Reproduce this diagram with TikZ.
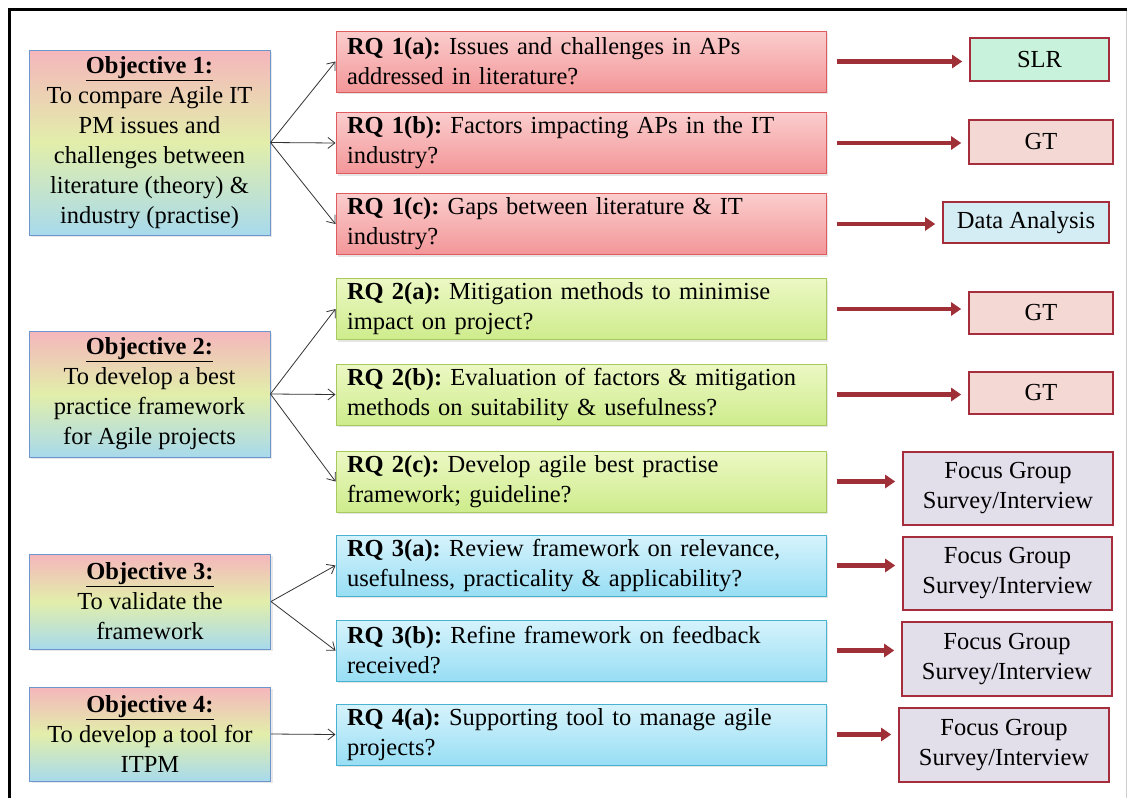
\documentclass[tikz,border=0pt]{standalone}
\usepackage{fontspec}
\setmainfont{Liberation Serif}
\newfontfamily\serifface{Liberation Serif}
\usetikzlibrary{arrows.meta,shadows}

% palette
\definecolor{objborder}{RGB}{110,150,205}
\definecolor{objtop}{RGB}{245,182,188}
\definecolor{objmid}{RGB}{226,238,170}
\definecolor{objbot}{RGB}{168,218,236}
\definecolor{rqAtop}{RGB}{251,205,205}
\definecolor{rqAbot}{RGB}{243,150,152}
\definecolor{rqAline}{RGB}{222,92,96}
\definecolor{rqBtop}{RGB}{236,248,196}
\definecolor{rqBbot}{RGB}{206,236,140}
\definecolor{rqBline}{RGB}{168,200,96}
\definecolor{rqCtop}{RGB}{214,243,252}
\definecolor{rqCbot}{RGB}{152,222,244}
\definecolor{rqCline}{RGB}{72,178,208}
\definecolor{mline}{RGB}{165,45,60}
\definecolor{flow}{RGB}{160,48,56}
\definecolor{fillslr}{RGB}{200,242,220}
\definecolor{fillgt}{RGB}{243,216,212}
\definecolor{fillda}{RGB}{212,236,244}
\definecolor{fillfg}{RGB}{226,222,234}

\tikzset{
  txt/.style={font=\serifface\frenchspacing\fontsize{24.5}{30}\selectfont},
  objbox/.style={txt, draw=objborder, line width=1pt, align=center,
    minimum width=241pt, inner sep=0pt,
    top color=objtop, bottom color=objbot, middle color=objmid,
    drop shadow={opacity=0.18, shadow xshift=2pt, shadow yshift=-2pt}},
  rqbox/.style={txt, line width=1pt, align=left, minimum width=490pt,
    minimum height=61pt, text width=468pt, inner xsep=11pt, inner ysep=0pt,
    drop shadow={opacity=0.2, shadow xshift=2pt, shadow yshift=-2pt}},
  rqred/.style={rqbox, draw=rqAline, top color=rqAtop, bottom color=rqAbot},
  rqgreen/.style={rqbox, draw=rqBline, top color=rqBtop, bottom color=rqBbot},
  rqcyan/.style={rqbox, draw=rqCline, top color=rqCtop, bottom color=rqCbot},
  mbox/.style={txt, draw=mline, line width=1.6pt, align=center, inner sep=0pt},
  link/.style={draw=black!80, line width=0.8pt, -{Straight Barb[length=7pt,width=11pt]}},
  flowarrow/.style={draw=flow, line width=4.5pt,
    -{Triangle[length=10pt,width=13pt]}, shorten <=10pt, shorten >=7pt}
}

\begin{document}
\begin{tikzpicture}[x=1pt,y=-1pt]
\useasboundingbox (0,0) rectangle (1131,798);
\fill[white] (0,0) rectangle (1131,798);

% frame
\draw[black!20, line width=1pt] (1126,9) -- (1126,798);
\draw[black, line width=3pt] (9,798) -- (9,9) -- (1127,9);

% objectives
\node[objbox, minimum height=185pt] (o1) at (149.5,142.5)
  {\textbf{\underline{Objective 1:}}\\To compare Agile IT\\PM issues and\\challenges between\\literature (theory) \&\\industry (practise)};
\node[objbox, minimum height=126pt] (o2) at (149.5,394)
  {\textbf{\underline{Objective 2:}}\\To develop a best\\practice framework\\for Agile projects};
\node[objbox, minimum height=95pt] (o3) at (150,601.5)
  {\textbf{\underline{Objective 3:}}\\To validate the\\framework};
\node[objbox, minimum height=94pt] (o4) at (150,734)
  {\textbf{\underline{Objective 4:}}\\To develop a tool for\\ITPM};

% research questions
\node[rqred] (q1a) at (581,61.5)
  {\textbf{RQ 1(a):} Issues and challenges in APs\\addressed in literature?};
\node[rqred] (q1b) at (581,143)
  {\textbf{RQ 1(b):} Factors impacting APs in the IT\\industry?};
\node[rqred] (q1c) at (581,224)
  {\textbf{RQ 1(c):} Gaps between literature \& IT\\industry?};
\node[rqgreen] (q2a) at (581,309)
  {\textbf{RQ 2(a):} Mitigation methods to minimise\\impact on project?};
\node[rqgreen] (q2b) at (581,394.5)
  {\textbf{RQ 2(b):} Evaluation of factors \& mitigation\\methods on suitability \& usefulness?};
\node[rqgreen] (q2c) at (581,481.5)
  {\textbf{RQ 2(c):} Develop agile best practise\\framework; guideline?};
\node[rqcyan] (q3a) at (581,565.5)
  {\textbf{RQ 3(a):} Review framework on relevance,\\usefulness, practicality \& applicability?};
\node[rqcyan] (q3b) at (581,650.5)
  {\textbf{RQ 3(b):} Refine framework on feedback\\received?};
\node[rqcyan] (q4a) at (581,734.5)
  {\textbf{RQ 4(a):} Supporting tool to manage agile\\projects?};

% methods
\node[mbox, fill=fillslr, minimum width=139pt, minimum height=43pt] (m1a) at (1039.5,59.5) {SLR};
\node[mbox, fill=fillgt, minimum width=144pt, minimum height=44pt] (m1b) at (1041,142) {GT};
\node[mbox, fill=fillda, minimum width=166pt, minimum height=41pt] (m1c) at (1026,222.5) {Data Analysis};
\node[mbox, fill=fillgt, minimum width=144pt, minimum height=42pt] (m2a) at (1041,313) {GT};
\node[mbox, fill=fillgt, minimum width=144pt, minimum height=42pt] (m2b) at (1041,393) {GT};
\node[mbox, fill=fillfg, minimum width=210pt, minimum height=73pt] (m2c) at (1008,488.5) {Focus Group\\Survey/Interview};
\node[mbox, fill=fillfg, minimum width=209pt, minimum height=73pt] (m3a) at (1007.5,573.5) {Focus Group\\Survey/Interview};
\node[mbox, fill=fillfg, minimum width=210pt, minimum height=74pt] (m3b) at (1007,659) {Focus Group\\Survey/Interview};
\node[mbox, fill=fillfg, minimum width=210pt, minimum height=74pt] (m4a) at (1004,745) {Focus Group\\Survey/Interview};

% objective -> question links
\foreach \o/\q in {o1/q1a,o1/q1b,o1/q1c,o2/q2a,o2/q2b,o2/q2c,o3/q3a,o3/q3b,o4/q4a}
  \draw[link] (\o.east) -- (\q.west);

% question -> method flows
\foreach \q/\m in {q1a/m1a,q1b/m1b,q1c/m1c,q2a/m2a,q2b/m2b,q2c/m2c,q3a/m3a,q3b/m3b,q4a/m4a}
  \draw[flowarrow] (\q.east) -- (\q.east -| \m.west);
\end{tikzpicture}
\end{document}
